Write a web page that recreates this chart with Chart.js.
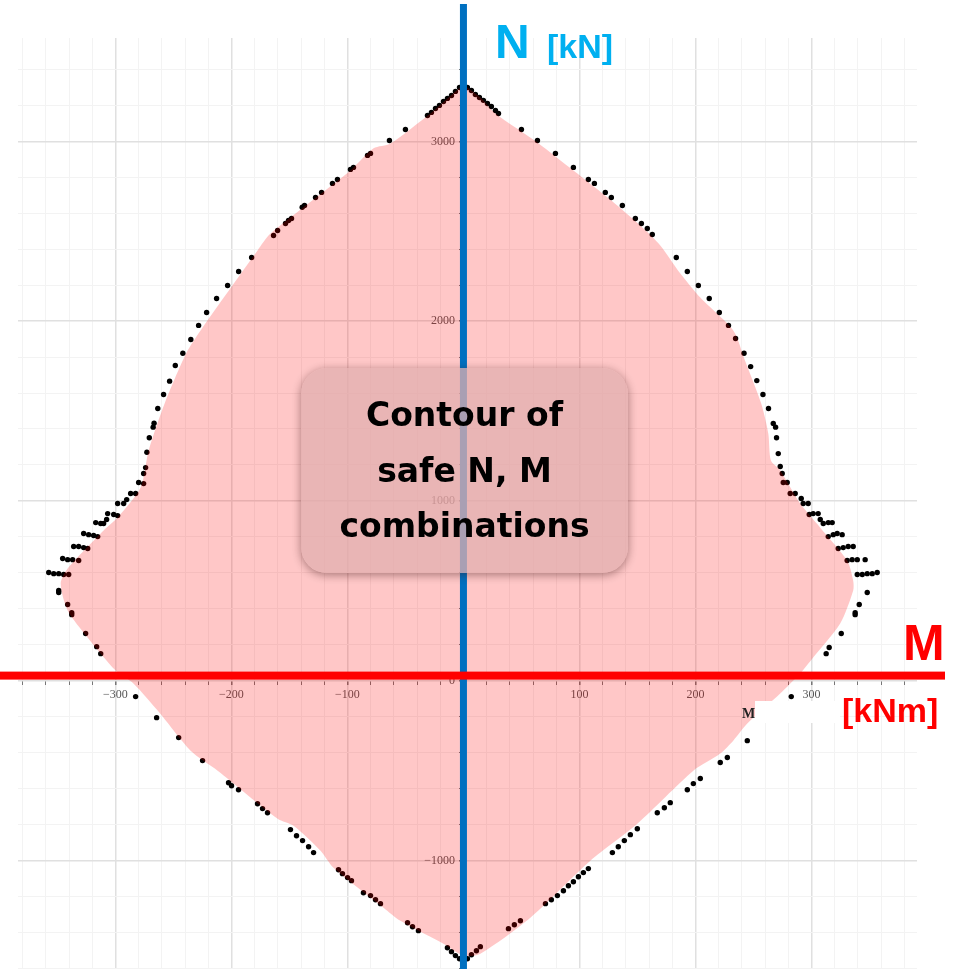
<!DOCTYPE html>
<html>
<head>
<meta charset="utf-8">
<script src="https://cdn.jsdelivr.net/npm/chart.js@4.4.0/dist/chart.umd.min.js"></script>
<style>
  html, body { margin: 0; padding: 0; background: #fff; overflow: hidden; }
  canvas { display: block; }
</style>
</head>
<body>
<!-- a few px taller than the window: the chart keeps 5px below its area -->
<canvas id="nm" width="959" height="974"></canvas>
<script>
// computed N-M points (black dots)
var dotM = [
  -31.0, -27.6, -24.1, -20.7, -17.2, -13.8, -10.3, -6.9, -3.4, 0, 3.4, 6.9, 10.3, 13.8, 17.2, 20.7, 24.1, 27.6, 30.2,
  -50.0, -63.8, -80.1, -82.7, -94.8, -97.4, -108.6, -112.9, -122.3, -127.5, -137.0, -139.0, -148.2, -150.8, -153.4, -160.2, -163.7, -182.6, -193.8, -203.3, -212.8, -221.4, -228.3,
  -235.0, -241.9, -248.4, -253.3, -258.5, -263.5, -266.7, -267.5, -270.8, -272.9, -274.0, -275.7, -280.0, -275.7, -286.9, -282.6, -290.3, -298.1, -292.9,
  -306.7, -301.5, -298.1, -307.6, -317.0, -312.7, -310.2, -327.4, -323.1, -318.8, -315.3, -336.0, -331.7, -327.4, -323.9, -345.5, -341.2, -336.9, -331.7, -357.5, -353.2, -348.9, -344.6, -340.3,
  -348.9, -348.9, -341.2, -337.7, -337.7, -325.7, -316.2, -312.7, -282.6, -264.5, -245.5,
  -224.9, -202.5, -199.9, -193.9, -177.5, -173.2, -168.9, -149.1, -143.9, -138.7, -133.5, -129.2, -107.7, -104.3, -99.9, -96.5, -86.2, -80.1, -75.8, -71.5, -48.2, -43.9, -38.8, -13.8, -10.3, -6.9, -3.4, 0, 3.4, 6.9, 11.2, 14.6,
  38.8, 43.9, 49.1, 70.7, 75.8, 81.0, 86.2, 90.5, 94.8, 99.1, 103.4, 107.7, 128.4, 133.5, 138.7, 143.9, 149.9, 167.1, 173.2, 178.3, 193.0, 198.2, 204.2, 221.4, 227.5, 244.7,
  282.6, 312.7, 315.3, 325.7, 337.7, 337.7, 341.2, 348.1,
  339.5, 343.8, 348.1, 352.4, 356.7, 330.8, 335.1, 339.5, 346.3, 323.1, 327.4, 331.7, 336.0, 314.5, 318.8, 322.2, 326.5, 307.6, 310.2, 314.5, 317.9, 298.1, 301.5, 305.8, 291.2, 292.9, 297.2, 281.7, 286.0,
  275.7, 279.1, 274.8, 273.1, 271.4, 269.9, 269.1, 267.1, 263.0, 258.2, 252.9, 247.6, 241.9, 234.6, 228.5,
  220.6, 211.9, 202.5, 193.0, 183.5, 162.8, 158.5, 153.4, 148.2, 137.0, 127.5, 122.3, 112.9, 107.7, 94.8, 79.3, 63.8, 50.0
];
var dotN = [
  3144, 3161, 3183, 3200, 3222, 3239, 3255, 3278, 3300, 3317, 3300, 3283, 3261, 3244, 3228, 3211, 3194, 3172, 3155,
  3066, 3005, 2933, 2922, 2855, 2844, 2788, 2766, 2716, 2688, 2643, 2633, 2571, 2560, 2543, 2504, 2476, 2354, 2276, 2198, 2126, 2048, 1976,
  1898, 1821, 1753, 1666, 1592, 1514, 1432, 1410, 1351, 1270, 1185, 1152, 1102, 1096, 1041, 1041, 1007, 985, 985,
  929, 924, 918, 896, 879, 874, 874, 818, 812, 807, 801, 746, 746, 740, 735, 679, 673, 673, 668, 601, 595, 595, 590, 590,
  490, 501, 423, 378, 367, 262, 189, 150, -89, -206, -317,
  -445, -568, -585, -607, -685, -712, -735, -829, -863, -890, -924, -957, -1052, -1074, -1096, -1113, -1180, -1196, -1219, -1241, -1347, -1369, -1391, -1486, -1508, -1530, -1547, -1569, -1547, -1525, -1503, -1480,
  -1380, -1358, -1336, -1241, -1219, -1196, -1169, -1141, -1119, -1091, -1068, -1046, -957, -924, -890, -857, -824, -735, -707, -679, -607, -573, -545, -456, -428, -334,
  -89, 150, 184, 262, 378, 367, 423, 490,
  590, 590, 595, 595, 601, 668, 673, 673, 673, 735, 740, 746, 746, 801, 812, 818, 812, 896, 874, 879, 879, 924, 929, 929, 1013, 985, 985, 1041, 1041,
  1102, 1102, 1152, 1191, 1263, 1351, 1410, 1430, 1514, 1592, 1669, 1747, 1821, 1903, 1976,
  2048, 2126, 2198, 2276, 2354, 2482, 2515, 2543, 2571, 2643, 2688, 2716, 2766, 2788, 2855, 2933, 3005, 3066
];

// safe region contour (pink area), clockwise from the top
var contourM = [
  0, 14.6, 27.6, 50.0, 63.8, 94.8, 127.5, 153.4, 169.7, 187.0, 204.2, 232.6, 242.7, 256.7, 262.8, 265.1, 273.1, 290.3,
  307.6, 330.8, 336.0, 336.0, 324.8, 301.5, 290.3, 273.1, 244.7, 232.6, 221.4, 198.2, 149.9, 109.4, 57.7, 14.6, 0,
  -17.2, -54.3, -68.9, -112.0, -123.2, -146.5, -160.2, -211.9, -235.2, -263.6, -284.3, -299.8, -323.9, -341.2, -347.2,
  -341.2, -310.2, -298.1, -278.3, -271.4, -257.6, -239.1, -226.6, -177.5, -166.3, -97.4, -77.5, -62.9, -28.4
];
var contourN = [
  3317, 3244, 3155, 3055, 2994, 2838, 2671, 2526, 2421, 2265, 2131, 1948, 1781, 1541, 1375, 1224, 1169, 985,
  851, 668, 556, 501, 317, 128, 39, -72, -239, -334, -406, -501, -796, -1002, -1319, -1519, -1530,
  -1464, -1336, -1263, -1041, -946, -807, -768, -501, -390, -167, -17, 56, 239, 390, 540,
  623, 835, 907, 1074, 1280, 1541, 1820, 1948, 2393, 2487, 2838, 2961, 2988, 3155
];

// grid ticks (labels only on the round ones)
var mTicks = [-380, -360, -340, -320, -300, -280, -260, -240, -220, -200, -180, -160, -140, -120, -100, -80, -60, -40, -20, 0,
  20, 40, 60, 80, 100, 120, 140, 160, 180, 200, 220, 240, 260, 280, 300, 320, 340, 360, 380];
var nTicks = [-1600, -1400, -1200, -1000, -800, -600, -400, -200, 0, 200, 400, 600, 800, 1000, 1200, 1400, 1600,
  1800, 2000, 2200, 2400, 2600, 2800, 3000, 3200, 3400];
var mLabels = [-300, -200, -100, 100, 200, 300];
var nLabels = [-1000, 0, 1000, 2000, 3000];

var boxLines = ['Contour of', 'safe N, M', 'combinations'];

function toPoints(xs, ys) {
  return xs.map(function (x, i) { return {x: x, y: ys[i]}; });
}

function fmt(v) {
  return v < 0 ? '\u2212' + Math.abs(v) : String(v);
}

function roundedRect(ctx, x, y, w, h, r) {
  ctx.moveTo(x + r, y);
  ctx.arcTo(x + w, y, x + w, y + h, r);
  ctx.arcTo(x + w, y + h, x, y + h, r);
  ctx.arcTo(x, y + h, x, y, r);
  ctx.arcTo(x, y, x + w, y, r);
  ctx.closePath();
}

var overlay = {
  id: 'overlay',
  afterDraw: function (chart) {
    var ctx = chart.ctx;
    var x0 = chart.scales.x.getPixelForValue(0);
    var y0 = chart.scales.y.getPixelForValue(0);
    ctx.save();

    // leftover axis title of the original plot
    ctx.fillStyle = '#fff';
    ctx.fillRect(755, 701, 85, 22);
    ctx.fillStyle = '#222';
    ctx.font = 'bold 14px "Liberation Serif"';
    ctx.textAlign = 'left';
    ctx.fillText('M', 742, 718);

    // N axis (blue) and M axis (red)
    ctx.fillStyle = '#0070C0';
    ctx.fillRect(x0 - 3.5, 4, 7, chart.height);
    ctx.fillStyle = '#FF0000';
    ctx.fillRect(0, y0 - 9, 945, 8);

    // label box: shadow only outside, then translucent fill
    var bx = 301, by = 368, bw = 327, bh = 205, br = 26;
    ctx.save();
    ctx.beginPath();
    ctx.rect(0, 0, chart.width, chart.height);
    roundedRect(ctx, bx, by, bw, bh, br);
    ctx.clip('evenodd');
    ctx.shadowColor = 'rgba(60,20,20,0.45)';
    ctx.shadowBlur = 10;
    ctx.shadowOffsetX = 3000;
    ctx.shadowOffsetY = 2;
    ctx.fillStyle = '#000';
    ctx.beginPath();
    roundedRect(ctx, bx - 3000, by, bw, bh, br);
    ctx.fill();
    ctx.restore();

    ctx.fillStyle = 'rgba(226,175,175,0.75)';
    ctx.beginPath();
    roundedRect(ctx, bx, by, bw, bh, br);
    ctx.fill();

    ctx.fillStyle = '#000';
    ctx.font = 'bold 33px "DejaVu Sans"';
    ctx.textAlign = 'center';
    var bl = [426, 482, 537];
    boxLines.forEach(function (t, i) { ctx.fillText(t, 464.5, bl[i]); });

    // axis names
    ctx.textAlign = 'left';
    ctx.fillStyle = '#00B0F0';
    ctx.font = 'bold 48px "Liberation Sans"';
    ctx.fillText('N', 495, 58);
    ctx.font = 'bold 34px "Liberation Sans"';
    ctx.fillText('[kN]', 547, 58);

    ctx.fillStyle = '#FF0000';
    ctx.font = 'bold 50px "Liberation Sans"';
    ctx.fillText('M', 903, 660);
    ctx.font = 'bold 34px "Liberation Sans"';
    ctx.fillText('[kNm]', 842, 722);

    ctx.restore();
  }
};

var tickFont = {family: '"Liberation Serif"', size: 12};

function setTicks(values) {
  return function (scale) {
    scale.ticks = values.map(function (v) { return {value: v}; });
  };
}

function noPadding(scale) {
  scale.paddingLeft = 0;
  scale.paddingRight = 0;
  scale.paddingTop = 0;
  scale.paddingBottom = 0;
}

new Chart(document.getElementById('nm'), {
  type: 'scatter',
  data: {
    datasets: [
      {
        label: 'points',
        data: toPoints(dotM, dotN),
        backgroundColor: '#000',
        borderWidth: 0,
        pointRadius: 2.7,
        order: 2
      },
      {
        label: 'contour',
        data: toPoints(contourM, contourN),
        showLine: true,
        fill: 'shape',
        backgroundColor: 'rgba(255,0,0,0.22)',
        borderColor: 'transparent',
        borderWidth: 0,
        pointRadius: 0,
        tension: 0.25,
        order: 1
      }
    ]
  },
  options: {
    responsive: false,
    animation: false,
    layout: {padding: {left: 18, right: 42, top: 38, bottom: 0}},
    plugins: {legend: {display: false}, tooltip: {enabled: false}},
    scales: {
      x: {
        type: 'linear',
        position: {y: 0},
        min: -384,
        max: 391,
        afterBuildTicks: setTicks(mTicks),
        afterFit: noPadding,
        border: {display: false},
        grid: {
          color: function (c) { return c.tick && c.tick.value % 100 === 0 ? '#e0e0e0' : '#f3f3f3'; },
          lineWidth: function (c) { return c.tick && c.tick.value % 100 === 0 ? 1.5 : 1; },
          tickColor: '#777',
          tickLength: 4
        },
        ticks: {
          autoSkip: false,
          maxRotation: 0,
          minRotation: 0,
          font: tickFont,
          color: '#555',
          callback: function (v) { return mLabels.indexOf(v) >= 0 ? fmt(v) : ''; }
        }
      },
      y: {
        type: 'linear',
        position: {x: 0},
        min: -1610,
        max: 3575,
        afterBuildTicks: setTicks(nTicks),
        afterFit: noPadding,
        border: {display: false},
        grid: {
          color: function (c) { return c.tick && c.tick.value % 1000 === 0 ? '#e0e0e0' : '#f3f3f3'; },
          lineWidth: function (c) { return c.tick && c.tick.value % 1000 === 0 ? 1.5 : 1; },
          tickColor: '#777',
          tickLength: 4
        },
        ticks: {
          autoSkip: false,
          font: tickFont,
          color: '#555',
          // trailing spaces keep the label clear of the N axis line
          callback: function (v) { return nLabels.indexOf(v) >= 0 ? fmt(v) + '\u2002\u2009' : ''; }
        }
      }
    }
  },
  plugins: [overlay]
});
</script>
</body>
</html>
